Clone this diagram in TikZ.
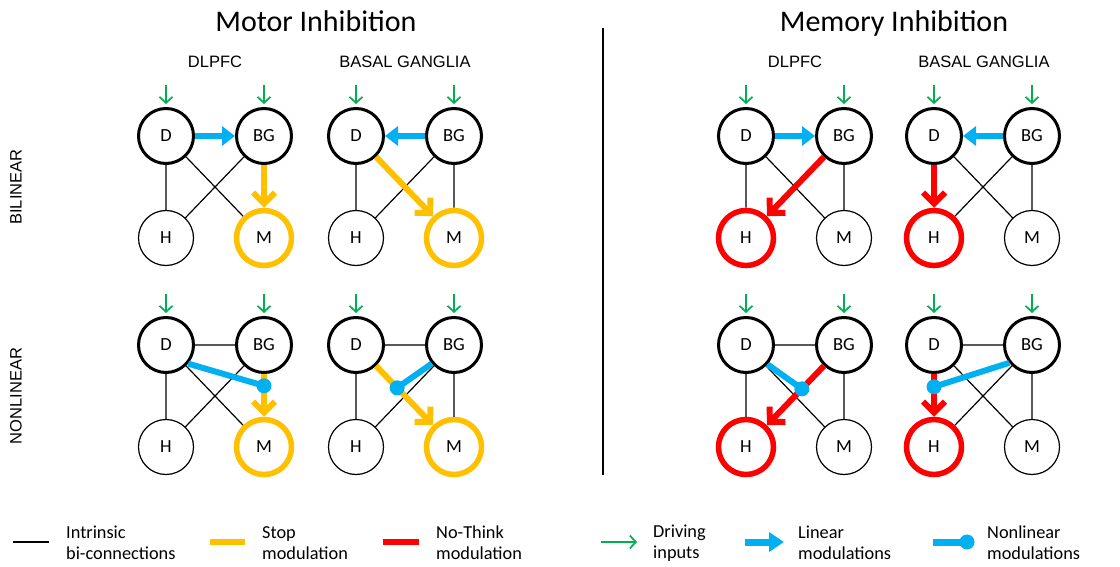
\documentclass[tikz,border=0pt]{standalone}
\usepackage{fontspec}
\setmainfont{Carlito}
\newfontfamily\arialfont{Liberation Sans}
\usetikzlibrary{arrows.meta,calc}
\definecolor{stopc}{HTML}{FFC000}
\definecolor{thinkc}{HTML}{FF0000}
\definecolor{modc}{HTML}{00B0F0}
\definecolor{inputc}{HTML}{00B050}

% four regions of one network: D and BG on top, H and M below, with driving inputs
\newcommand\netnodes[5]{%
  \node[drvarea] (#1D) at (#2,#3) {D};
  \node[drvarea] (#1BG) at (#2+98,#3) {BG};
  \node[#4] (#1H) at (#2,#3+102) {H};
  \node[#5] (#1M) at (#2+98,#3+102) {M};
  \coordinate (#1dI) at (#2,#3-51);
  \coordinate (#1bI) at (#2+98,#3-51);
  \draw[drivein] (#1dI) -- (#1D);
  \draw[drivein] (#1bI) -- (#1BG);
}

\begin{document}
\begin{tikzpicture}[x=1pt,y=-1pt,
  every node/.style={inner sep=0pt},
  region/.style={circle,draw,fill=white,minimum size=55pt,font=\fontsize{18.5}{20}\selectfont},
  drvarea/.style={region,line width=3pt},
  plainarea/.style={region,line width=1.2pt},
  stopn/.style={region,draw=stopc,line width=5.5pt},
  thinkn/.style={region,draw=thinkc,line width=5.5pt},
  intr/.style={line width=1.2pt},
  drivein/.style={draw=inputc,line width=1.7pt,-{Straight Barb[length=6pt,width=13pt]},shorten >=3pt},
  linmod/.style={draw=modc,line width=6.5pt,-{Triangle[length=13pt,width=19pt]}},
  nlmod/.style={draw=modc,line width=6pt},
  nldot/.style={fill=modc},
  stopa/.style={draw=stopc,line width=6pt,-{Straight Barb[length=11pt,width=22pt]}},
  thinka/.style={draw=thinkc,line width=6pt,-{Straight Barb[length=11pt,width=22pt]}},
  title/.style={anchor=base,font=\fontsize{30}{36}\selectfont},
  collab/.style={anchor=base,font=\arialfont\fontsize{16.5}{20}\selectfont},
  rowlab/.style={rotate=90,font=\arialfont\fontsize{16.5}{20}\selectfont},
  legtext/.style={anchor=west,align=left,font=\fontsize{18.3}{21}\selectfont}
]
\fill[white] (0,0) rectangle (1120,567);
\useasboundingbox (0,0) rectangle (1120,567);

% headings
\node[title] (tmotor) at (316,32) {Motor Inhibition};
\node[title] (tmemory) at (894,32) {Memory Inhibition};
\node[collab] (c1) at (215,68) {DLPFC};
\node[collab] (c2) at (405,68) {BASAL GANGLIA};
\node[collab] (c3) at (795,68) {DLPFC};
\node[collab] (c4) at (984,68) {BASAL GANGLIA};
\node[rowlab] (r1) at (16,187) {BILINEAR};
\node[rowlab] (r2) at (16,396) {NONLINEAR};

% divider
\coordinate (divtop) at (603,28);
\coordinate (divbot) at (603,475);
\draw[line width=1.2pt] (divtop) -- (divbot);

% motor, DLPFC, bilinear
\netnodes{a}{166}{136}{plainarea}{stopn}
\draw[intr] (aD) -- (aH) (aD) -- (aM) (aBG) -- (aH);
\draw[linmod] (aD) -- (aBG);
\draw[stopa] (aBG) -- (aM);

% motor, basal ganglia, bilinear
\netnodes{b}{356}{136}{plainarea}{stopn}
\draw[intr] (bD) -- (bH) (bBG) -- (bH) (bBG) -- (bM);
\draw[linmod] (bBG) -- (bD);
\draw[stopa] (bD) -- (bM);

% motor, DLPFC, nonlinear
\netnodes{c}{166}{345}{plainarea}{stopn}
\draw[intr] (cD) -- (cBG) (cD) -- (cH) (cD) -- (cM) (cBG) -- (cH);
\draw[stopa] (cBG) -- (cM);
\coordinate (cX) at ($(cBG)!0.40!(cM)$);
\draw[nlmod] (cD.-40) -- (cX);
\fill[nldot] (cX) circle (7.5pt);

% motor, basal ganglia, nonlinear
\netnodes{d}{356}{345}{plainarea}{stopn}
\draw[intr] (dD) -- (dBG) (dD) -- (dH) (dBG) -- (dH) (dBG) -- (dM);
\draw[stopa] (dD) -- (dM);
\coordinate (dX) at ($(dD)!0.42!(dM)$);
\draw[nlmod] (dBG.220) -- (dX);
\fill[nldot] (dX) circle (7.5pt);

% memory, DLPFC, bilinear
\netnodes{e}{746}{136}{thinkn}{plainarea}
\draw[intr] (eD) -- (eH) (eD) -- (eM) (eBG) -- (eM);
\draw[linmod] (eD) -- (eBG);
\draw[thinka] (eBG) -- (eH);

% memory, basal ganglia, bilinear
\netnodes{f}{934}{136}{thinkn}{plainarea}
\draw[intr] (fBG) -- (fH) (fD) -- (fM) (fBG) -- (fM);
\draw[linmod] (fBG) -- (fD);
\draw[thinka] (fD) -- (fH);

% memory, DLPFC, nonlinear
\netnodes{g}{746}{345}{thinkn}{plainarea}
\draw[intr] (gD) -- (gBG) (gD) -- (gH) (gD) -- (gM) (gBG) -- (gM);
\draw[thinka] (gBG) -- (gH);
\coordinate (gX) at ($(gBG)!0.43!(gH)$);
\draw[nlmod] (gD.-42) -- (gX);
\fill[nldot] (gX) circle (7.5pt);

% memory, basal ganglia, nonlinear
\netnodes{h}{934}{345}{thinkn}{plainarea}
\draw[intr] (hD) -- (hBG) (hBG) -- (hH) (hD) -- (hM) (hBG) -- (hM);
\draw[thinka] (hD) -- (hH);
\coordinate (hX) at ($(hD)!0.41!(hH)$);
\draw[nlmod] (hBG.218) -- (hX);
\fill[nldot] (hX) circle (7.5pt);

% legend
\coordinate (k1a) at (13,542);  \coordinate (k1b) at (49,542);
\coordinate (k2a) at (210,542); \coordinate (k2b) at (245,542);
\coordinate (k3a) at (383,542); \coordinate (k3b) at (419,542);
\coordinate (k4a) at (601,542); \coordinate (k4b) at (637,542);
\coordinate (k5a) at (745,542); \coordinate (k5b) at (784,542);
\coordinate (k6a) at (933,542); \coordinate (k6b) at (967,542);
\draw[intr] (k1a) -- (k1b);
\draw[draw=stopc,line width=5.5pt] (k2a) -- (k2b);
\draw[draw=thinkc,line width=5.5pt] (k3a) -- (k3b);
\draw[draw=inputc,line width=1.7pt,-{Straight Barb[length=6pt,width=13pt]}] (k4a) -- (k4b);
\draw[draw=modc,line width=7pt,-{Triangle[length=15pt,width=19pt]}] (k5a) -- (k5b);
\draw[nlmod,line width=7pt] (k6a) -- (k6b);
\fill[nldot] (k6b) circle (7.5pt);
\node[legtext] (t1) at (66,543) {Intrinsic\\bi-connections};
\node[legtext] (t2) at (262,543) {Stop\\modulation};
\node[legtext] (t3) at (436,543) {No-Think\\modulation};
\node[legtext] (t4) at (653,543) {Driving\\inputs};
\node[legtext] (t5) at (798,543) {Linear\\modulations};
\node[legtext] (t6) at (987,543) {Nonlinear\\modulations};
\end{tikzpicture}
\end{document}
